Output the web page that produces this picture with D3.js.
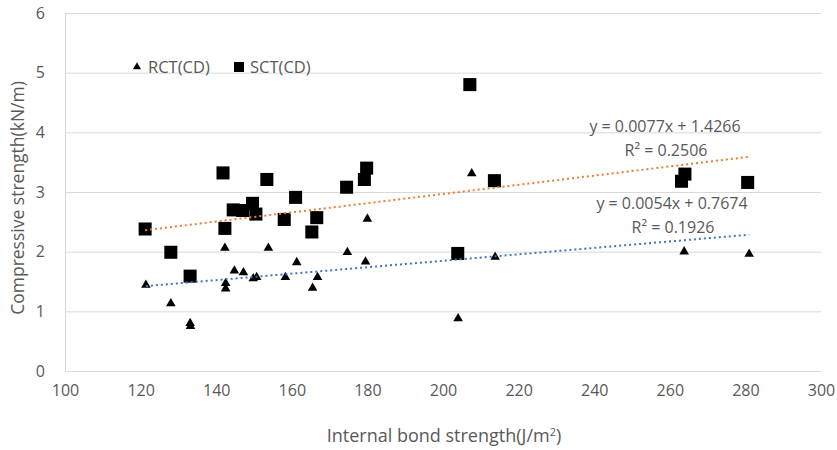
<!DOCTYPE html>
<html>
<head>
<meta charset="utf-8">
<script src="https://cdn.jsdelivr.net/npm/d3@7"></script>
<style>
  body { margin: 0; background: #fff; }
  text { font-family: "Open Sans", sans-serif; fill: #595959; }
</style>
</head>
<body>
<div class="scatter-plot"></div>
<script>
// DATA
const rctX = [121.4, 128.0, 133.1, 133.2, 142.3, 142.5, 142.5, 144.8, 147.2, 149.8, 150.7, 153.8, 158.3, 161.3, 165.5, 166.8, 174.7, 179.5, 180.0, 204.0, 207.6, 213.8, 263.8, 281.0];
const rctY = [1.44, 1.13, 0.80, 0.75, 2.06, 1.47, 1.38, 1.68, 1.65, 1.55, 1.57, 2.06, 1.57, 1.82, 1.39, 1.57, 1.99, 1.83, 2.55, 0.88, 3.31, 1.91, 2.00, 1.96];
const sctX = [121.2, 128.0, 133.1, 141.8, 142.3, 144.5, 147.0, 149.6, 150.5, 153.4, 158.0, 161.0, 165.3, 166.6, 174.5, 179.2, 179.8, 203.9, 207.1, 213.6, 263.1, 264.0, 280.6];
const sctY = [2.38, 1.99, 1.59, 3.32, 2.39, 2.70, 2.69, 2.81, 2.63, 3.21, 2.54, 2.91, 2.33, 2.57, 3.08, 3.21, 3.40, 1.97, 4.80, 3.19, 3.18, 3.30, 3.16];
const seriesNames = ['RCT(CD)', 'SCT(CD)'];
const trendSlope = [0.0054, 0.0077];
const trendIntercept = [0.7674, 1.4266];
const trendEq = ['y = 0.0054x + 0.7674', 'y = 0.0077x + 1.4266'];
const trendR2 = ['R² = 0.1926', 'R² = 0.2506'];
const xTicks = [100, 120, 140, 160, 180, 200, 220, 240, 260, 280, 300];
const yTicks = [0, 1, 2, 3, 4, 5, 6];

//CHART INIT
let outerWidth = 837, outerHeight = 450;
let margin = {top: 13, right: 16, bottom: 79, left: 65};
let width = outerWidth - margin.left - margin.right, height = outerHeight - margin.top - margin.bottom;

let svg = d3.select('.scatter-plot').append('svg')
    .attr('width', outerWidth)
    .attr('height', outerHeight)
    .append('g')
    .attr('transform', `translate(${margin.left},${margin.top})`);

const xScale = d3.scaleLinear().domain([100, 300]).range([0, width]);
const yScale = d3.scaleLinear().domain([0, 6]).range([height, 0]);

// gridlines
svg.selectAll('.grid')
    .data(yTicks)
    .enter().append('line')
    .attr('x1', 0).attr('x2', width)
    .attr('y1', d => yScale(d) + 0.5).attr('y2', d => yScale(d) + 0.5)
    .attr('stroke', '#d9d9d9')
    .attr('stroke-width', 1);

// left axis line
svg.append('line')
    .attr('x1', 0.5).attr('x2', 0.5)
    .attr('y1', 0).attr('y2', height)
    .attr('stroke', '#d9d9d9');

// axes (labels only)
let xAxis = d3.axisBottom(xScale).tickValues(xTicks).tickSize(0).tickPadding(14).tickFormat(d3.format('d'));
svg.append('g')
    .attr('class', 'axis x-axis')
    .attr('transform', `translate(0,${height})`)
    .call(xAxis)
    .call(g => g.select('.domain').remove());

let yAxis = d3.axisLeft(yScale).tickValues(yTicks).tickSize(0).tickPadding(20).tickFormat(d3.format('d'));
svg.append('g')
    .attr('class', 'axis y-axis')
    .call(yAxis)
    .call(g => g.select('.domain').remove());

svg.selectAll('.axis text')
    .style('font-family', '"Open Sans", sans-serif')
    .style('font-size', '16px')
    .attr('fill', '#595959');

// axis titles
svg.append('text')
    .attr('x', xScale(200) + 1)
    .attr('y', height + 71)
    .attr('text-anchor', 'middle')
    .style('font-size', '18px')
    .html('Internal bond strength(J/m<tspan dy="-6" font-size="11px">2</tspan><tspan dy="6">)</tspan>');

svg.append('text')
    .attr('transform', `translate(${-margin.left + 24},${yScale(2.9)}) rotate(-90)`)
    .attr('text-anchor', 'middle')
    .style('font-size', '17.5px')
    .text('Compressive strength(kN/m)');

// markers
const triangle = d3.symbol().type(d3.symbolTriangle).size(40);
const square = d3.symbol().type(d3.symbolSquare).size(170);

svg.selectAll('.rct')
    .data(rctX.map((x, i) => ({x: x, y: rctY[i]})))
    .enter().append('path')
    .attr('class', 'rct')
    .attr('d', triangle)
    .attr('transform', d => `translate(${xScale(d.x)},${yScale(d.y)})`)
    .attr('fill', '#000');

svg.selectAll('.sct')
    .data(sctX.map((x, i) => ({x: x, y: sctY[i]})))
    .enter().append('path')
    .attr('class', 'sct')
    .attr('d', square)
    .attr('transform', d => `translate(${xScale(d.x)},${yScale(d.y)})`)
    .attr('fill', '#000');

// trendlines
const trendColors = ['#4472c4', '#ed7d31'];
const extents = [d3.extent(rctX), d3.extent(sctX)];
extents.forEach((ext, i) => {
    svg.append('line')
        .attr('x1', xScale(ext[0])).attr('y1', yScale(trendSlope[i] * ext[0] + trendIntercept[i]))
        .attr('x2', xScale(ext[1])).attr('y2', yScale(trendSlope[i] * ext[1] + trendIntercept[i]))
        .attr('stroke', trendColors[i])
        .attr('stroke-width', 2)
        .attr('stroke-dasharray', '2,3');
});

// trendline labels
[[672, 203], [665, 126]].forEach((p, i) => {
    svg.append('text')
        .attr('x', p[0] - margin.left)
        .attr('y', p[1] - margin.top + 6)
        .attr('text-anchor', 'middle')
        .style('font-size', '16px')
        .text(trendEq[i]);
    svg.append('text')
        .attr('x', p[0] - margin.left + 1)
        .attr('y', p[1] - margin.top + 30)
        .attr('text-anchor', 'middle')
        .style('font-size', '16px')
        .text(trendR2[i]);
});

// legend
let legend = svg.append('g').attr('transform', `translate(${137 - margin.left},${67 - margin.top})`);
legend.append('path')
    .attr('d', d3.symbol().type(d3.symbolTriangle).size(28))
    .attr('fill', '#000');
legend.append('text')
    .attr('x', 11).attr('y', 6)
    .style('font-size', '16.5px')
    .text(seriesNames[0]);
legend.append('path')
    .attr('d', d3.symbol().type(d3.symbolSquare).size(100))
    .attr('transform', 'translate(102,0)')
    .attr('fill', '#000');
legend.append('text')
    .attr('x', 113).attr('y', 6)
    .style('font-size', '16.5px')
    .text(seriesNames[1]);
</script>
</body>
</html>
